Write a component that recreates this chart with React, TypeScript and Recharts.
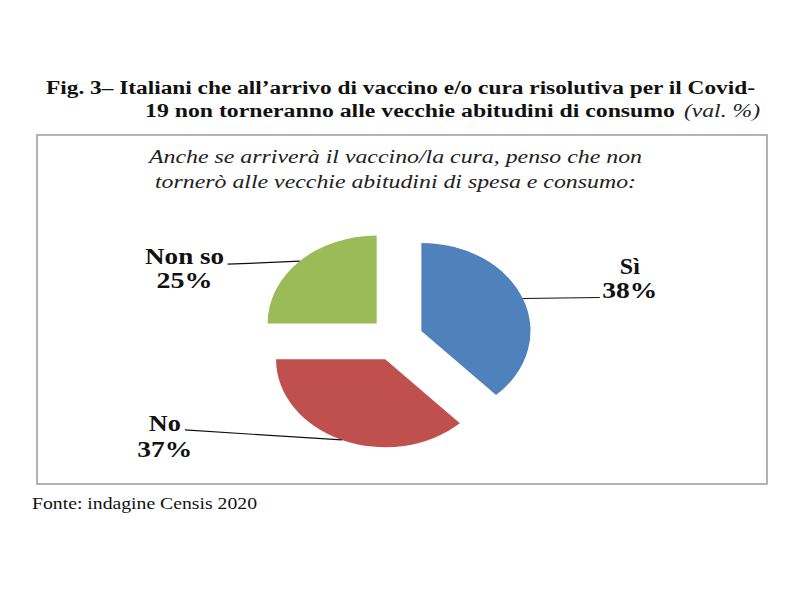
import { Cell, Pie, PieChart } from 'recharts'

const CATEGORIES = ['Sì', 'No', 'Non so']
const VALUES = [38, 37, 25]
const COLORS = ['#4F81BD', '#C0504D', '#9BBB59']

const TITLE_1 = 'Fig. 3– Italiani che all’arrivo di vaccino e/o cura risolutiva per il Covid-'
const TITLE_2 = '19 non torneranno alle vecchie abitudini di consumo'
const TITLE_UNIT = '(val. %)'
const SUBTITLE_1 = 'Anche se arriverà il vaccino/la cura, penso che non'
const SUBTITLE_2 = 'tornerò alle vecchie abitudini di spesa e consumo:'
const SOURCE = 'Fonte: indagine Censis 2020'

const data = CATEGORIES.map((name, i) => ({ name, value: VALUES[i] }))

const SERIF = '"Liberation Serif", "Times New Roman", serif'
// the source picture is stretched sideways
const SX = 1.24
const EXPLODE = 22
const RAD = Math.PI / 180

// leader line end and text, relative to where the line leaves the slice
const LABEL_LAYOUT = [
  { ex: 77, ey: -1, tx: 107, y1: -25, y2: -1, w1: 20, w2: 55 },
  { ex: -157, ey: -10, tx: -177, y1: -9, y2: 17, w1: 32, w2: 55 },
  { ex: -72, ey: 3, tx: -115, y1: 3, y2: 27, w1: 79, w2: 56 },
]

// text squeezed/stretched to the width it has in the picture
function SerifText(props: any) {
  const { x, y, size, len, bold, italic, anchor, fill = '#111', children } = props
  return (
    <text
      x={x}
      y={y}
      textAnchor={anchor || 'start'}
      fontFamily={SERIF}
      fontSize={size}
      fontWeight={bold ? 'bold' : 'normal'}
      fontStyle={italic ? 'italic' : 'normal'}
      fill={fill}
      textLength={len}
      lengthAdjust='spacingAndGlyphs'
    >
      {children}
    </text>
  )
}

const pt = (cx: number, cy: number, r: number, a: number) => [
  cx + r * Math.cos(-a * RAD) * SX,
  cy + r * Math.sin(-a * RAD),
]

function ExplodedSlice(props: any) {
  const { outerRadius, startAngle, endAngle, midAngle, fill } = props
  const cx = props.cx + EXPLODE * Math.cos(midAngle * RAD) * SX
  const cy = props.cy - EXPLODE * Math.sin(midAngle * RAD)
  const [x0, y0] = pt(cx, cy, outerRadius, startAngle)
  const [x1, y1] = pt(cx, cy, outerRadius, endAngle)
  const large = Math.abs(endAngle - startAngle) > 180 ? 1 : 0
  const sweep = startAngle > endAngle ? 1 : 0
  const d = `M${cx},${cy} L${x0},${y0} A${outerRadius * SX},${outerRadius} 0 ${large} ${sweep} ${x1},${y1} Z`
  return <path d={d} fill={fill} stroke='none' />
}

function SliceLabel(props: any) {
  const { cx, cy, midAngle, outerRadius, index, name, value } = props
  const L = LABEL_LAYOUT[index]
  const [ax, ay] = pt(cx, cy, outerRadius + EXPLODE, midAngle)
  return (
    <g>
      <line x1={ax} y1={ay} x2={ax + L.ex} y2={ay + L.ey} stroke='#111' strokeWidth={1.2} />
      <SerifText x={ax + L.tx} y={ay + L.y1} size={23} len={L.w1} bold anchor='middle'>
        {name}
      </SerifText>
      <SerifText x={ax + L.tx} y={ay + L.y2} size={23} len={L.w2} bold anchor='middle'>
        {`${value}%`}
      </SerifText>
    </g>
  )
}

export default function App() {
  return (
    <div style={{ position: 'absolute', left: 0, top: 0, width: 800, height: 600, background: '#fff' }}>
      <svg width={800} height={600} style={{ position: 'absolute', left: 0, top: 0 }}>
        <SerifText x={46} y={94} size={18} len={709} bold>
          {TITLE_1}
        </SerifText>
        <SerifText x={145} y={117} size={18} len={530} bold>
          {TITLE_2}
        </SerifText>
        <SerifText x={684} y={117} size={18} len={76} italic fill='#222'>
          {TITLE_UNIT}
        </SerifText>
        <rect x={37} y={135} width={730} height={349} fill='none' stroke='#9a9a9a' strokeWidth={1.5} />
        <SerifText x={149} y={163} size={18} len={493} italic fill='#222'>
          {SUBTITLE_1}
        </SerifText>
        <SerifText x={155} y={188} size={18} len={481} italic fill='#222'>
          {SUBTITLE_2}
        </SerifText>
        <SerifText x={32} y={509} size={17} len={225}>
          {SOURCE}
        </SerifText>
      </svg>
      <div style={{ position: 'absolute', left: 0, top: 0 }}>
        <PieChart width={800} height={600} margin={{ top: 0, right: 0, bottom: 0, left: 0 }}>
          <Pie
            data={data}
            dataKey='value'
            nameKey='name'
            cx={396}
            cy={339}
            outerRadius={88}
            startAngle={90}
            endAngle={-270}
            stroke='none'
            shape={ExplodedSlice}
            activeShape={ExplodedSlice}
            inactiveShape={ExplodedSlice}
            label={SliceLabel}
            labelLine={false}
            isAnimationActive={false}
          >
            {data.map((d, i) => (
              <Cell key={d.name} fill={COLORS[i]} />
            ))}
          </Pie>
        </PieChart>
      </div>
    </div>
  )
}
